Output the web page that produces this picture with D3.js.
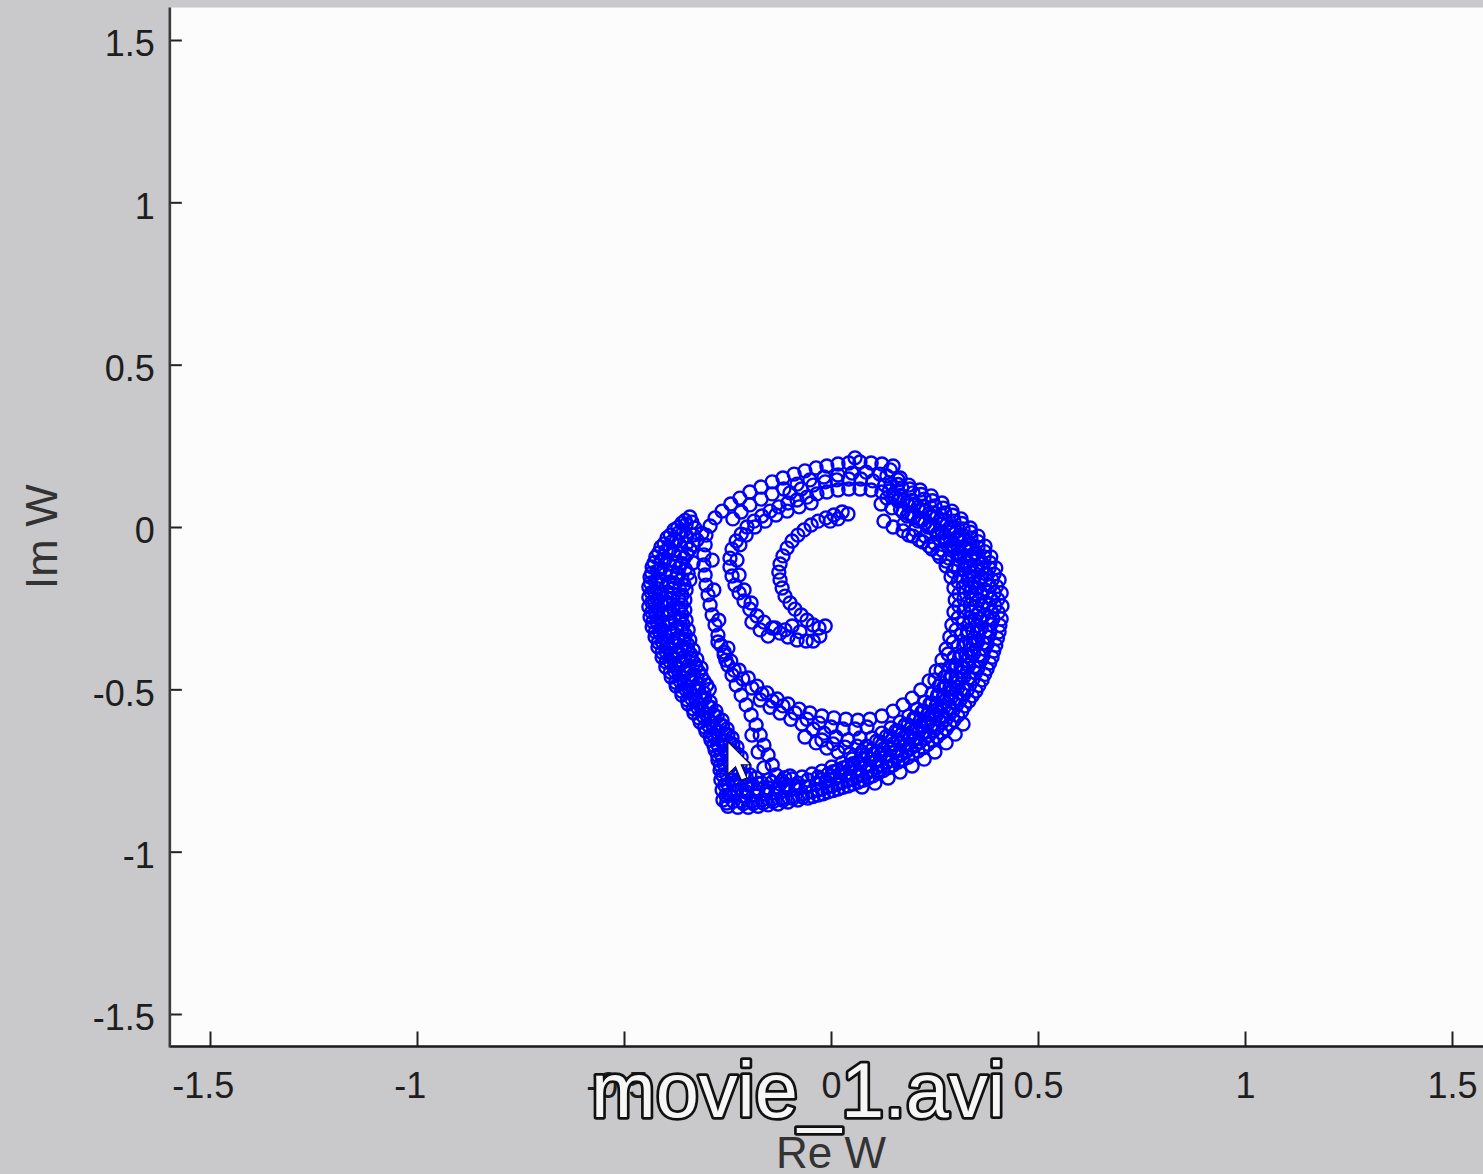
<!DOCTYPE html>
<html>
<head>
<meta charset="utf-8">
<script src="https://cdn.jsdelivr.net/npm/d3@7"></script>
<style>
  html, body { margin: 0; padding: 0; background: #c9c8ca; }
  svg { display: block; }
</style>
</head>
<body>
<svg id="chart" width="1483" height="1174"></svg>
<script>
// ---------------- DATA (Re W, Im W) ----------------
const xTicks = [-1.5, -1, -0.5, 0, 0.5, 1, 1.5];
const yTicks = [-1.5, -1, -0.5, 0, 0.5, 1, 1.5];
const xTickLabels = ["-1.5", "-1", "-0.5", "0", "0.5", "1", "1.5"];
const yTickLabels = ["-1.5", "-1", "-0.5", "0", "0.5", "1", "1.5"];
const xLabel = "Re W";
const yLabel = "Im W";
const overlayTitle = "movie_1.avi";

const curlInner = [[0.041,0.040],[0.027,0.046],[0.017,0.025],[0.007,0.037],[-0.002,0.018],[-0.012,0.028],[-0.031,0.018],[-0.048,0.006],[-0.065,-0.009],[-0.080,-0.025],[-0.094,-0.043],[-0.106,-0.065],[-0.116,-0.089],[-0.123,-0.114],[-0.126,-0.139],[-0.123,-0.163],[-0.118,-0.188],[-0.111,-0.213],[-0.099,-0.234],[-0.087,-0.253],[-0.072,-0.271],[-0.058,-0.287],[-0.043,-0.302],[-0.029,-0.311],[-0.014,-0.305],[-0.027,-0.336],[-0.043,-0.351]];

const curlOuter = [[-0.060,-0.351],[-0.082,-0.348],[-0.104,-0.339],[-0.123,-0.327],[-0.142,-0.311],[-0.162,-0.293],[-0.179,-0.274],[-0.196,-0.253],[-0.210,-0.228],[-0.222,-0.203],[-0.232,-0.179],[-0.239,-0.151],[-0.244,-0.123],[-0.244,-0.096],[-0.239,-0.068],[-0.229,-0.043],[-0.217,-0.022],[-0.203,0.000],[-0.186,0.018],[-0.167,0.034],[-0.147,0.049],[-0.126,0.062],[-0.104,0.074],[-0.082,0.083],[-0.058,0.092],[-0.034,0.102],[-0.010,0.108],[0.017,0.114],[0.043,0.117],[0.070,0.117],[0.097,0.114],[-0.135,-0.311],[-0.111,-0.317],[-0.094,-0.305],[-0.152,-0.336],[-0.075,-0.323],[-0.171,-0.317],[-0.191,-0.293]];

const curlOuter2 = [[-0.227,-0.102],[-0.222,-0.148],[-0.210,-0.194],[-0.193,-0.234],[-0.220,-0.055],[-0.205,-0.025],[-0.184,0.000],[-0.159,0.018],[-0.133,0.037],[-0.106,0.049],[-0.077,0.062],[-0.048,0.074]];

const topBand = [[0.058,0.213],[0.150,0.188],[0.123,0.194],[0.097,0.197],[0.070,0.200],[0.043,0.197],[0.017,0.194],[-0.010,0.188],[-0.036,0.182],[-0.063,0.173],[-0.089,0.163],[-0.116,0.151],[-0.142,0.139],[-0.169,0.123],[-0.196,0.108],[-0.220,0.089],[-0.242,0.071],[-0.263,0.049],[-0.280,0.028],[-0.292,0.003],[0.118,0.163],[0.085,0.169],[0.051,0.166],[0.017,0.160],[-0.017,0.154],[-0.051,0.145],[-0.082,0.132],[-0.114,0.117],[-0.142,0.102],[-0.169,0.086],[-0.196,0.068],[-0.217,0.046],[-0.237,0.025]];

const topBand3 = [[0.143,0.176],[0.167,0.151],[0.130,0.129],[0.101,0.142],[0.072,0.148],[0.043,0.148],[0.014,0.145],[-0.014,0.139],[-0.043,0.129],[-0.072,0.117],[-0.099,0.105]];

const leftColumn = [[-0.302,-0.025],[-0.304,-0.055],[-0.307,-0.086],[-0.307,-0.117],[-0.304,-0.148],[-0.302,-0.179],[-0.297,-0.209],[-0.292,-0.240],[-0.287,-0.271],[-0.280,-0.302],[-0.273,-0.333],[-0.266,-0.364],[-0.258,-0.394],[-0.249,-0.425],[-0.239,-0.456],[-0.229,-0.487],[-0.217,-0.518],[-0.205,-0.548],[-0.193,-0.579],[-0.181,-0.610],[-0.171,-0.641],[-0.162,-0.672],[-0.152,-0.702],[-0.142,-0.733],[-0.133,-0.764],[-0.123,-0.792],[-0.287,-0.102],[-0.283,-0.194],[-0.271,-0.287],[-0.191,-0.641],[-0.176,-0.693],[-0.162,-0.742]];

const outerLeft1 = [[-0.341,0.031],[-0.360,0.012],[-0.379,-0.009],[-0.396,-0.034],[-0.411,-0.062],[-0.423,-0.092],[-0.432,-0.123],[-0.437,-0.154],[-0.440,-0.185],[-0.440,-0.216],[-0.440,-0.246],[-0.437,-0.277],[-0.432,-0.308],[-0.425,-0.339],[-0.418,-0.370],[-0.408,-0.401],[-0.399,-0.431],[-0.386,-0.462],[-0.374,-0.490],[-0.360,-0.518],[-0.345,-0.545],[-0.331,-0.573],[-0.316,-0.601],[-0.302,-0.629],[-0.290,-0.656],[-0.280,-0.687],[-0.273,-0.718],[-0.268,-0.749],[-0.266,-0.779],[-0.263,-0.810],[-0.261,-0.841],[-0.249,-0.860]];

const outerLeft1b = [[-0.350,0.008],[-0.368,-0.018],[-0.384,-0.045],[-0.398,-0.073],[-0.410,-0.103],[-0.419,-0.135],[-0.424,-0.168],[-0.426,-0.200],[-0.426,-0.232],[-0.424,-0.262],[-0.420,-0.293],[-0.414,-0.323],[-0.407,-0.355],[-0.398,-0.385],[-0.389,-0.414],[-0.378,-0.444],[-0.365,-0.473],[-0.351,-0.500],[-0.337,-0.528],[-0.322,-0.556],[-0.308,-0.584],[-0.295,-0.612],[-0.284,-0.640],[-0.274,-0.670],[-0.266,-0.700],[-0.258,-0.731],[-0.252,-0.762],[-0.249,-0.793],[-0.246,-0.825],[-0.242,-0.826],[-0.215,-0.810]];

const outerLeft2 = [[-0.329,-0.003],[-0.348,-0.028],[-0.365,-0.055],[-0.379,-0.083],[-0.391,-0.114],[-0.401,-0.145],[-0.408,-0.176],[-0.411,-0.206],[-0.411,-0.237],[-0.408,-0.268],[-0.406,-0.299],[-0.401,-0.330],[-0.394,-0.360],[-0.386,-0.391],[-0.377,-0.422],[-0.367,-0.450],[-0.355,-0.478],[-0.341,-0.505],[-0.326,-0.533],[-0.312,-0.561],[-0.297,-0.588],[-0.283,-0.616],[-0.271,-0.644],[-0.258,-0.672],[-0.249,-0.702],[-0.242,-0.733],[-0.237,-0.764],[-0.232,-0.795]];

const outerLeft2b = [[-0.333,-0.025],[-0.349,-0.052],[-0.362,-0.080],[-0.374,-0.110],[-0.385,-0.140],[-0.392,-0.170],[-0.396,-0.200],[-0.397,-0.232],[-0.396,-0.262],[-0.393,-0.293],[-0.388,-0.325],[-0.381,-0.355],[-0.373,-0.386],[-0.363,-0.415],[-0.352,-0.443],[-0.339,-0.470],[-0.325,-0.498],[-0.311,-0.526],[-0.296,-0.554],[-0.282,-0.581],[-0.268,-0.609],[-0.256,-0.638],[-0.244,-0.666],[-0.234,-0.695],[-0.226,-0.726],[-0.220,-0.757],[-0.218,-0.789]];

const outerLeft3 = [[-0.324,-0.040],[-0.341,-0.068],[-0.355,-0.096],[-0.367,-0.126],[-0.374,-0.157],[-0.379,-0.188],[-0.382,-0.219],[-0.382,-0.250],[-0.379,-0.280],[-0.374,-0.311],[-0.370,-0.342],[-0.362,-0.373],[-0.355,-0.401],[-0.345,-0.428],[-0.333,-0.456],[-0.321,-0.484],[-0.307,-0.511],[-0.292,-0.539],[-0.278,-0.567],[-0.263,-0.595],[-0.251,-0.622],[-0.239,-0.650],[-0.227,-0.678],[-0.217,-0.709],[-0.210,-0.739],[-0.205,-0.770]];

const outerLeft3b = [[-0.352,-0.130],[-0.360,-0.160],[-0.366,-0.192],[-0.368,-0.222],[-0.367,-0.253],[-0.364,-0.284],[-0.360,-0.315],[-0.354,-0.346],[-0.346,-0.377],[-0.337,-0.405],[-0.326,-0.432],[-0.313,-0.460],[-0.300,-0.487]];

const outerLeft4 = [[-0.341,-0.163],[-0.350,-0.194],[-0.353,-0.225],[-0.353,-0.256],[-0.350,-0.287],[-0.345,-0.317],[-0.341,-0.348],[-0.333,-0.379],[-0.324,-0.407],[-0.314,-0.434],[-0.196,-0.764],[-0.181,-0.773],[-0.099,-0.767]];

const leftFill1 = [[-0.352,0.020],[-0.370,-0.002],[-0.388,-0.025],[-0.403,-0.052],[-0.416,-0.080],[-0.427,-0.110],[-0.433,-0.142],[-0.436,-0.172],[-0.434,-0.202],[-0.433,-0.232],[-0.433,-0.262],[-0.430,-0.292],[-0.424,-0.323],[-0.417,-0.355],[-0.408,-0.386],[-0.398,-0.416],[-0.388,-0.447],[-0.375,-0.478],[-0.361,-0.505],[-0.347,-0.532],[-0.333,-0.560],[-0.319,-0.588],[-0.305,-0.616],[-0.292,-0.643],[-0.283,-0.672],[-0.274,-0.703],[-0.267,-0.734],[-0.262,-0.764],[-0.257,-0.795],[-0.254,-0.827],[-0.252,-0.850]];

const leftFill2 = [[-0.336,0.015],[-0.356,-0.012],[-0.373,-0.040],[-0.388,-0.068],[-0.400,-0.098],[-0.410,-0.128],[-0.416,-0.160],[-0.419,-0.190],[-0.419,-0.222],[-0.417,-0.252],[-0.414,-0.283],[-0.409,-0.314],[-0.402,-0.345],[-0.393,-0.376],[-0.383,-0.406],[-0.372,-0.436],[-0.360,-0.464],[-0.346,-0.492],[-0.331,-0.519],[-0.316,-0.547],[-0.302,-0.575],[-0.289,-0.603],[-0.277,-0.631],[-0.265,-0.660],[-0.256,-0.690],[-0.248,-0.720],[-0.242,-0.750],[-0.238,-0.780],[-0.235,-0.812]];

const leftFill3 = [[-0.312,-0.020],[-0.333,-0.055],[-0.348,-0.083],[-0.361,-0.112],[-0.371,-0.142],[-0.380,-0.172],[-0.386,-0.204],[-0.389,-0.236],[-0.388,-0.266],[-0.386,-0.297],[-0.381,-0.328],[-0.375,-0.358],[-0.367,-0.388],[-0.358,-0.417],[-0.347,-0.446],[-0.335,-0.472],[-0.320,-0.500],[-0.305,-0.528],[-0.290,-0.556],[-0.275,-0.584],[-0.262,-0.612],[-0.249,-0.640],[-0.237,-0.669],[-0.227,-0.699],[-0.219,-0.730],[-0.212,-0.762]];

const leftFill4 = [[-0.333,-0.110],[-0.345,-0.143],[-0.355,-0.178],[-0.360,-0.210],[-0.361,-0.240],[-0.360,-0.270],[-0.357,-0.300],[-0.352,-0.332],[-0.346,-0.362],[-0.339,-0.392],[-0.330,-0.420],[-0.319,-0.447],[-0.307,-0.474],[-0.294,-0.500]];

const bottomLump = [[-0.236,-0.845],[-0.212,-0.852],[-0.188,-0.852],[-0.164,-0.850],[-0.140,-0.846],[-0.116,-0.842],[-0.092,-0.836],[-0.068,-0.832],[-0.228,-0.812],[-0.204,-0.817],[-0.180,-0.815],[-0.156,-0.812],[-0.132,-0.808],[-0.108,-0.803],[-0.084,-0.798],[-0.200,-0.795],[-0.176,-0.790],[-0.150,-0.778],[-0.112,-0.772]];

const ringOuter0 = [[-0.225,-0.863],[-0.200,-0.863],[-0.176,-0.860],[-0.152,-0.856],[-0.128,-0.853],[-0.104,-0.847],[-0.080,-0.841],[-0.056,-0.835],[-0.031,-0.826],[-0.007,-0.816],[0.017,-0.807],[0.041,-0.798],[0.065,-0.786],[0.089,-0.773],[0.114,-0.758],[0.138,-0.742],[0.162,-0.724],[0.186,-0.709],[0.210,-0.690],[0.234,-0.669],[0.256,-0.647],[0.278,-0.622],[0.297,-0.595],[0.316,-0.567],[0.333,-0.536],[0.350,-0.505],[0.365,-0.471],[0.377,-0.437],[0.389,-0.401],[0.398,-0.364],[0.406,-0.323],[0.411,-0.283],[0.413,-0.243],[0.411,-0.203],[0.406,-0.163],[0.398,-0.126],[0.386,-0.092],[0.372,-0.059],[0.355,-0.028],[0.336,-0.003],[0.314,0.025],[0.292,0.049],[0.268,0.074],[0.242,0.096],[0.215,0.114],[0.188,0.129],[0.162,0.145],[0.135,0.157]];

const ringOuterB = [[0.075,-0.801],[0.106,-0.789],[0.138,-0.773],[0.167,-0.755],[0.196,-0.736],[0.225,-0.715],[0.251,-0.693],[0.278,-0.665],[0.300,-0.638],[0.319,-0.607]];

const ringOuter0m = [[-0.215,-0.844],[-0.191,-0.844],[-0.167,-0.841],[-0.142,-0.838],[-0.118,-0.835],[-0.094,-0.829],[-0.070,-0.823],[-0.046,-0.816],[-0.022,-0.807],[0.002,-0.798],[0.027,-0.786],[0.051,-0.776],[0.075,-0.764],[0.099,-0.749],[0.123,-0.733],[0.147,-0.718],[0.171,-0.699],[0.193,-0.681],[0.215,-0.662],[0.237,-0.641],[0.258,-0.616],[0.278,-0.592],[0.295,-0.564],[0.312,-0.533],[0.329,-0.502],[0.343,-0.468],[0.355,-0.434],[0.367,-0.397],[0.377,-0.360],[0.384,-0.323],[0.391,-0.283],[0.396,-0.243],[0.394,-0.203],[0.389,-0.163],[0.382,-0.126],[0.370,-0.092],[0.355,-0.062],[0.338,-0.034],[0.319,-0.006],[0.297,0.018],[0.275,0.043],[0.251,0.065],[0.225,0.086],[0.198,0.105],[0.171,0.120],[0.145,0.132]];

const ringOuter1 = [[-0.205,-0.829],[-0.181,-0.826],[-0.157,-0.823],[-0.133,-0.819],[-0.109,-0.813],[-0.085,-0.807],[-0.060,-0.801],[-0.036,-0.792],[-0.012,-0.783],[0.012,-0.773],[0.036,-0.764],[0.060,-0.752],[0.085,-0.736],[0.109,-0.721],[0.133,-0.706],[0.157,-0.690],[0.181,-0.672],[0.203,-0.653],[0.225,-0.632],[0.246,-0.610],[0.266,-0.585],[0.285,-0.558],[0.302,-0.530],[0.319,-0.499],[0.333,-0.465],[0.345,-0.431],[0.357,-0.394],[0.367,-0.357],[0.374,-0.320],[0.379,-0.280],[0.382,-0.240],[0.379,-0.200],[0.374,-0.163],[0.365,-0.129],[0.353,-0.099],[0.338,-0.068],[0.321,-0.040],[0.302,-0.015],[0.280,0.009],[0.256,0.031],[0.229,0.052],[0.203,0.071],[0.176,0.086],[0.150,0.099],[0.123,0.108]];

const ringOuter1m = [[-0.176,-0.807],[-0.152,-0.804],[-0.128,-0.801],[-0.104,-0.795],[-0.080,-0.789],[-0.056,-0.779],[-0.031,-0.770],[-0.007,-0.761],[0.017,-0.749],[0.041,-0.736],[0.065,-0.724],[0.089,-0.709],[0.114,-0.693],[0.138,-0.678],[0.162,-0.659],[0.184,-0.641],[0.205,-0.622],[0.225,-0.601],[0.244,-0.579],[0.263,-0.555],[0.280,-0.527],[0.295,-0.499],[0.309,-0.468],[0.321,-0.434],[0.333,-0.397],[0.343,-0.360],[0.353,-0.323],[0.360,-0.283],[0.365,-0.243],[0.362,-0.203],[0.357,-0.166],[0.350,-0.132],[0.338,-0.099],[0.324,-0.068],[0.307,-0.040],[0.287,-0.015],[0.266,0.009],[0.242,0.031],[0.215,0.049],[0.188,0.065],[0.162,0.080],[0.135,0.089]];

const ringOuter2 = [[-0.191,-0.792],[-0.167,-0.789],[-0.142,-0.786],[-0.118,-0.783],[-0.094,-0.776],[-0.070,-0.770],[-0.046,-0.761],[-0.022,-0.752],[0.002,-0.739],[0.027,-0.727],[0.051,-0.715],[0.075,-0.702],[0.099,-0.687],[0.123,-0.672],[0.147,-0.656],[0.171,-0.638],[0.193,-0.619],[0.215,-0.598],[0.234,-0.576],[0.254,-0.551],[0.271,-0.524],[0.287,-0.496],[0.302,-0.465],[0.314,-0.431],[0.326,-0.397],[0.336,-0.360],[0.343,-0.323],[0.348,-0.287],[0.350,-0.246],[0.350,-0.206],[0.345,-0.173],[0.336,-0.139],[0.324,-0.108],[0.309,-0.080],[0.292,-0.055],[0.273,-0.031],[0.251,-0.009],[0.227,0.012],[0.200,0.031],[0.174,0.046],[0.147,0.059],[0.121,0.071]];

const ringOuter2m = [[0.118,-0.662],[0.143,-0.644],[0.164,-0.628],[0.186,-0.610],[0.205,-0.588],[0.225,-0.567],[0.244,-0.542],[0.261,-0.518],[0.278,-0.490],[0.292,-0.459],[0.304,-0.428],[0.316,-0.394],[0.326,-0.357],[0.331,-0.320],[0.336,-0.280],[0.336,-0.240],[0.336,-0.200],[0.331,-0.163],[0.321,-0.129],[0.307,-0.099],[0.292,-0.071],[0.275,-0.043],[0.256,-0.022],[0.234,0.000],[0.210,0.018],[0.184,0.034]];

const ringOuter3 = [[0.099,-0.650],[0.123,-0.635],[0.145,-0.619],[0.167,-0.601],[0.188,-0.582],[0.208,-0.561],[0.227,-0.539],[0.244,-0.514],[0.261,-0.490],[0.275,-0.462],[0.287,-0.431],[0.297,-0.401],[0.307,-0.367],[0.314,-0.333],[0.319,-0.296],[0.321,-0.259],[0.321,-0.222],[0.319,-0.185],[0.312,-0.151],[0.300,-0.123],[0.285,-0.096],[0.268,-0.071],[0.249,-0.049],[0.227,-0.028],[0.203,-0.009],[0.176,0.009]];

const ringFill1 = [[-0.044,-0.830],[-0.019,-0.822],[0.005,-0.812],[0.029,-0.802],[0.053,-0.792],[0.077,-0.780],[0.101,-0.766],[0.126,-0.750],[0.150,-0.733],[0.174,-0.716],[0.198,-0.699],[0.222,-0.680],[0.245,-0.658],[0.267,-0.634],[0.287,-0.608],[0.306,-0.581],[0.323,-0.551],[0.341,-0.520],[0.357,-0.488],[0.371,-0.454],[0.383,-0.419],[0.393,-0.382],[0.402,-0.343],[0.408,-0.303],[0.404,-0.263],[0.403,-0.223],[0.400,-0.183],[0.394,-0.145],[0.384,-0.110],[0.371,-0.076],[0.355,-0.045],[0.337,-0.016],[0.316,0.011],[0.294,0.036],[0.271,0.058],[0.245,0.081],[0.218,0.100],[0.190,0.117],[0.162,0.131]];

const ringFill2 = [[-0.032,-0.810],[-0.008,-0.800],[0.016,-0.790],[0.040,-0.780],[0.064,-0.768],[0.088,-0.754],[0.112,-0.740],[0.136,-0.724],[0.160,-0.707],[0.183,-0.690],[0.205,-0.671],[0.227,-0.650],[0.248,-0.627],[0.268,-0.602],[0.287,-0.575],[0.304,-0.547],[0.320,-0.517],[0.336,-0.484],[0.349,-0.449],[0.361,-0.413],[0.371,-0.376],[0.379,-0.340],[0.386,-0.300],[0.388,-0.262],[0.387,-0.222],[0.384,-0.183],[0.376,-0.146],[0.365,-0.111],[0.351,-0.080],[0.336,-0.052],[0.318,-0.025],[0.297,0.000],[0.275,0.022],[0.250,0.044],[0.224,0.064],[0.196,0.082],[0.168,0.097],[0.141,0.111]];

const ringFill3 = [[-0.024,-0.778],[0.000,-0.768],[0.024,-0.757],[0.048,-0.744],[0.072,-0.730],[0.097,-0.715],[0.121,-0.700],[0.145,-0.684],[0.169,-0.666],[0.192,-0.647],[0.214,-0.626],[0.235,-0.604],[0.255,-0.580],[0.274,-0.553],[0.291,-0.524],[0.307,-0.494],[0.321,-0.461],[0.333,-0.426],[0.345,-0.390],[0.355,-0.352],[0.363,-0.312],[0.369,-0.272],[0.372,-0.232],[0.370,-0.192],[0.363,-0.154],[0.352,-0.120],[0.339,-0.088],[0.322,-0.060],[0.304,-0.032],[0.284,-0.006],[0.262,0.018],[0.237,0.040],[0.210,0.060],[0.183,0.076],[0.156,0.090]];

const ringFill4 = [[0.005,-0.754],[0.029,-0.742],[0.053,-0.729],[0.078,-0.716],[0.102,-0.700],[0.126,-0.684],[0.150,-0.668],[0.174,-0.650],[0.196,-0.631],[0.217,-0.610],[0.237,-0.588],[0.256,-0.563],[0.274,-0.537],[0.290,-0.510],[0.304,-0.480],[0.317,-0.447],[0.328,-0.413],[0.338,-0.378],[0.346,-0.342],[0.352,-0.304],[0.356,-0.265],[0.357,-0.225],[0.354,-0.188],[0.347,-0.153],[0.337,-0.121],[0.323,-0.092],[0.307,-0.066],[0.289,-0.041],[0.269,-0.018],[0.246,0.003],[0.221,0.022],[0.195,0.040],[0.168,0.054]];

const ringFill5 = [[0.086,-0.675],[0.110,-0.660],[0.134,-0.645],[0.157,-0.628],[0.179,-0.610],[0.200,-0.590],[0.220,-0.569],[0.239,-0.545],[0.257,-0.519],[0.273,-0.492],[0.288,-0.463],[0.300,-0.432],[0.311,-0.398],[0.321,-0.363],[0.329,-0.327],[0.334,-0.300],[0.340,-0.262],[0.342,-0.222],[0.340,-0.186],[0.333,-0.152],[0.324,-0.120],[0.311,-0.090],[0.296,-0.064],[0.279,-0.040],[0.260,-0.018],[0.238,0.004],[0.214,0.024],[0.188,0.040]];

const bandC1 = [[-0.273,-0.354],[-0.258,-0.385],[-0.242,-0.413],[-0.222,-0.441],[-0.200,-0.465],[-0.179,-0.490],[-0.155,-0.511],[-0.130,-0.530],[-0.104,-0.545],[-0.077,-0.561],[-0.051,-0.573],[-0.022,-0.582],[0.007,-0.588],[0.036,-0.592],[0.065,-0.595],[0.094,-0.592],[0.123,-0.582],[0.150,-0.567],[0.174,-0.548],[0.196,-0.527],[0.217,-0.502],[0.237,-0.474],[0.254,-0.444],[0.268,-0.410],[0.278,-0.376],[0.287,-0.339],[0.292,-0.302],[0.297,-0.262],[0.300,-0.225],[0.297,-0.188],[0.290,-0.154],[0.278,-0.120],[0.263,-0.092],[0.244,-0.068],[0.222,-0.046],[0.198,-0.028],[0.174,-0.012],[0.150,0.000],[0.128,0.018]];

const bandC1m = [[0.251,-0.471],[0.266,-0.441],[0.283,-0.391],[0.295,-0.354],[0.302,-0.317],[0.307,-0.280],[0.309,-0.243],[0.309,-0.206],[0.307,-0.169],[0.295,-0.136],[0.278,-0.105],[0.258,-0.080],[0.237,-0.059],[0.213,-0.040],[0.188,-0.025],[-0.116,-0.551],[-0.087,-0.573],[-0.058,-0.592],[-0.029,-0.604],[0.000,-0.616],[0.029,-0.622],[0.058,-0.622],[0.087,-0.616]];

const bandCLeft = [[-0.254,-0.410],[-0.234,-0.441],[-0.213,-0.468],[-0.191,-0.496],[-0.167,-0.514],[-0.142,-0.536],[-0.249,-0.373]];

const bandC2 = [[-0.171,-0.533],[-0.147,-0.555],[-0.123,-0.573],[-0.097,-0.592],[-0.070,-0.607],[-0.043,-0.622],[-0.017,-0.635],[0.012,-0.647],[0.041,-0.656],[0.070,-0.650]];

const bandC3 = [[-0.063,-0.647],[-0.036,-0.665],[-0.010,-0.681],[0.017,-0.693],[0.046,-0.699],[0.075,-0.693],[-0.022,-0.656],[0.005,-0.668],[0.034,-0.678],[0.063,-0.675]];

const cursorAt = [-0.249, -0.662];

// ---------------- DRAWING ----------------
const svg = d3.select("#chart");
const W = 1483, H = 1174;

const x = d3.scaleLinear().domain([-1.5, 1.5]).range([210, 1452]);
const y = d3.scaleLinear().domain([-1.5, 1.5]).range([1014, 40]);

const plotLeft = x(-1.597), plotRight = x(1.62), plotTop = y(1.6), plotBottom = y(-1.6);

svg.append("rect").attr("width", W).attr("height", H).attr("fill", "#c9c8ca");
svg.append("rect")
  .attr("x", plotLeft).attr("y", plotTop)
  .attr("width", plotRight - plotLeft).attr("height", plotBottom - plotTop)
  .attr("fill", "#fdfcfd");

// scatter
const allPoints = [].concat(curlInner, curlOuter, curlOuter2, topBand, topBand3, leftColumn,
  outerLeft1, outerLeft1b, outerLeft2, outerLeft2b, outerLeft3, outerLeft3b, outerLeft4,
  leftFill1, leftFill2, leftFill3, leftFill4, bottomLump,
  ringOuter0, ringOuterB, ringOuter0m, ringOuter1, ringOuter1m, ringOuter2, ringOuter2m, ringOuter3,
  ringFill1, ringFill2, ringFill3, ringFill4, ringFill5,
  bandC1, bandC1m, bandCLeft, bandC2, bandC3);

svg.append("g")
  .selectAll("circle")
  .data(allPoints)
  .join("circle")
  .attr("cx", d => x(d[0]))
  .attr("cy", d => y(d[1]))
  .attr("r", 6.5)
  .attr("fill", "none")
  .attr("stroke", "#0000ff")
  .attr("stroke-width", 2.4);

// mouse cursor
svg.append("path")
  .attr("transform", `translate(${x(cursorAt[0])},${y(cursorAt[1])}) scale(1.9)`)
  .attr("d", "M0,0 L0,17 L4,13 L7,20 L10,19 L7,12 L12,12 Z")
  .attr("fill", "#ffffff")
  .attr("stroke", "#111")
  .attr("stroke-width", 0.6)
  .attr("stroke-linejoin", "miter");

// axes
const fontFam = "'Liberation Sans', Arial, Helvetica, sans-serif";

const gx = svg.append("g").attr("transform", `translate(0,${plotBottom})`)
  .call(d3.axisBottom(x).tickValues(xTicks)
    .tickFormat((d, i) => xTickLabels[i])
    .tickSizeInner(-15).tickSizeOuter(0).tickPadding(26));
gx.select(".domain").remove();
gx.selectAll(".tick line").attr("stroke", "#222").attr("stroke-width", 2);
gx.selectAll(".tick text")
  .attr("font-family", fontFam).attr("font-size", 36).attr("fill", "#1e1e1e")
  .attr("dx", d => d < 0 ? "-0.2em" : "0");

const gy = svg.append("g").attr("transform", `translate(${plotLeft},0)`)
  .call(d3.axisLeft(y).tickValues(yTicks)
    .tickFormat((d, i) => yTickLabels[i])
    .tickSizeInner(-12).tickSizeOuter(0).tickPadding(15));
gy.select(".domain").remove();
gy.selectAll(".tick line").attr("stroke", "#222").attr("stroke-width", 2);
gy.selectAll(".tick text")
  .attr("font-family", fontFam).attr("font-size", 36).attr("fill", "#1e1e1e")
  .attr("dy", "0.44em");

svg.append("line").attr("x1", plotLeft).attr("x2", W + 5)
  .attr("y1", plotBottom).attr("y2", plotBottom)
  .attr("stroke", "#1a1a1a").attr("stroke-width", 2.6);
svg.append("line").attr("x1", plotLeft).attr("x2", plotLeft)
  .attr("y1", plotTop).attr("y2", plotBottom + 1)
  .attr("stroke", "#3a3a3a").attr("stroke-width", 2.6);

// axis labels
svg.append("text")
  .attr("x", x(0)).attr("y", 1168)
  .attr("text-anchor", "middle")
  .attr("font-family", fontFam).attr("font-size", 44).attr("fill", "#333")
  .text(xLabel);

svg.append("text")
  .attr("transform", `translate(57,${y(-0.03)}) rotate(-90)`)
  .attr("text-anchor", "middle")
  .attr("font-family", fontFam).attr("font-size", 45).attr("fill", "#333")
  .text(yLabel);

// video overlay caption
svg.append("text")
  .attr("x", 591).attr("y", 1117)
  .attr("textLength", 414).attr("lengthAdjust", "spacingAndGlyphs")
  .attr("font-family", fontFam).attr("font-size", 78)
  .attr("fill", "#f6f6f6").attr("stroke", "#111").attr("stroke-width", 5.5)
  .attr("paint-order", "stroke")
  .attr("stroke-linejoin", "round")
  .text(overlayTitle);
</script>
</body>
</html>
